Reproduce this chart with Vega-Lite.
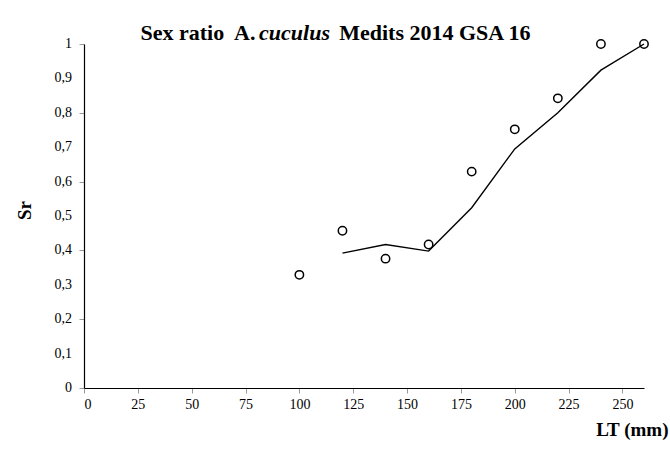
{
  "$schema": "https://vega.github.io/schema/vega-lite/v6.json",
  "width": 560,
  "height": 344,
  "autosize": {"type": "none"},
  "padding": {"left": 84, "top": 44, "right": 26, "bottom": 63},
  "background": "white",
  "config": {
    "view": {"stroke": null},
    "font": "Liberation Serif",
    "locale": {"number": {"decimal": ",", "thousands": ".", "grouping": [3], "currency": ["", " €"]}},
    "axis": {
      "labelFont": "Liberation Serif",
      "labelFontSize": 14,
      "labelColor": "black",
      "labelOverlap": false,
      "grid": false,
      "domainColor": "black",
      "domainWidth": 1.2,
      "tickColor": "#999999",
      "tickSize": 5,
      "titleFont": "Liberation Serif",
      "titleFontSize": 19,
      "titleFontWeight": "bold",
      "titleColor": "black"
    },
    "axisX": {"labelPadding": 4}
  },
  "datasets": {
    "obs": [
      {"lt": 100, "sr": 0.329},
      {"lt": 120, "sr": 0.457},
      {"lt": 140, "sr": 0.376},
      {"lt": 160, "sr": 0.417},
      {"lt": 180, "sr": 0.629},
      {"lt": 200, "sr": 0.752},
      {"lt": 220, "sr": 0.842},
      {"lt": 240, "sr": 1.0},
      {"lt": 260, "sr": 1.0}
    ],
    "fit": [
      {"lt": 120, "sr": 0.392},
      {"lt": 140, "sr": 0.417},
      {"lt": 160, "sr": 0.398},
      {"lt": 180, "sr": 0.524},
      {"lt": 200, "sr": 0.695},
      {"lt": 220, "sr": 0.80},
      {"lt": 240, "sr": 0.924},
      {"lt": 260, "sr": 1.0}
    ],
    "yticks": [
      {"v": 0}, {"v": 0.1}, {"v": 0.2}, {"v": 0.3}, {"v": 0.4}, {"v": 0.5},
      {"v": 0.6}, {"v": 0.7}, {"v": 0.8}, {"v": 0.9}, {"v": 1}
    ],
    "one": [{"k": 1}]
  },
  "layer": [
    {
      "data": {"name": "fit"},
      "mark": {"type": "line", "color": "black", "strokeWidth": 1.4},
      "encoding": {
        "x": {
          "field": "lt", "type": "quantitative",
          "scale": {"domain": [0, 260], "nice": false, "zero": true},
          "axis": {
            "values": [0, 25, 50, 75, 100, 125, 150, 175, 200, 225, 250],
            "labelFontSize": 14,
            "labelFont": "Liberation Serif",
            "title": "LT (mm)",
            "titleAnchor": null,
            "titleAlign": "right",
            "titleBaseline": "alphabetic",
            "titleX": 584,
            "titleY": 47
          }
        },
        "y": {
          "field": "sr", "type": "quantitative",
          "scale": {"domain": [0, 1], "nice": false},
          "axis": {
            "values": [0, 0.1, 0.2, 0.3, 0.4, 0.5, 0.6, 0.7, 0.8, 0.9, 1],
            "labels": false,
            "title": "Sr",
            "titleAngle": -90,
            "titleAlign": "center",
            "titleBaseline": "middle",
            "titleX": -60,
            "titleY": 166
          }
        }
      }
    },
    {
      "data": {"name": "yticks"},
      "mark": {"type": "text", "font": "Liberation Serif", "fontSize": 14, "align": "right", "baseline": "middle", "dx": -12, "color": "black"},
      "encoding": {
        "x": {"datum": 0, "type": "quantitative"},
        "y": {"field": "v", "type": "quantitative"},
        "text": {"field": "v", "type": "quantitative", "format": ".1~f"}
      }
    },
    {
      "data": {"name": "obs"},
      "mark": {"type": "point", "shape": "circle", "filled": false, "color": "black", "strokeWidth": 1.5, "size": 70, "opacity": 1},
      "encoding": {
        "x": {"field": "lt", "type": "quantitative"},
        "y": {"field": "sr", "type": "quantitative"}
      }
    },
    {
      "data": {"name": "one"},
      "mark": {"type": "text", "text": "Sex ratio", "font": "Liberation Serif", "fontSize": 22, "fontWeight": "bold", "align": "left", "baseline": "alphabetic", "color": "black"},
      "encoding": {
        "x": {"datum": 26.2, "type": "quantitative"},
        "y": {"datum": 1.0116, "type": "quantitative"}
      }
    },
    {
      "data": {"name": "one"},
      "mark": {"type": "text", "text": "A.", "font": "Liberation Serif", "fontSize": 22, "fontWeight": "bold", "align": "left", "baseline": "alphabetic", "color": "black"},
      "encoding": {
        "x": {"datum": 69.7, "type": "quantitative"},
        "y": {"datum": 1.0116, "type": "quantitative"}
      }
    },
    {
      "data": {"name": "one"},
      "mark": {"type": "text", "text": "cuculus", "font": "Liberation Serif", "fontSize": 22, "fontWeight": "bold", "fontStyle": "italic", "align": "left", "baseline": "alphabetic", "color": "black"},
      "encoding": {
        "x": {"datum": 81.3, "type": "quantitative"},
        "y": {"datum": 1.0116, "type": "quantitative"}
      }
    },
    {
      "data": {"name": "one"},
      "mark": {"type": "text", "text": "Medits 2014 GSA 16", "font": "Liberation Serif", "fontSize": 22, "fontWeight": "bold", "align": "left", "baseline": "alphabetic", "color": "black"},
      "encoding": {
        "x": {"datum": 118.5, "type": "quantitative"},
        "y": {"datum": 1.0116, "type": "quantitative"}
      }
    }
  ]
}
